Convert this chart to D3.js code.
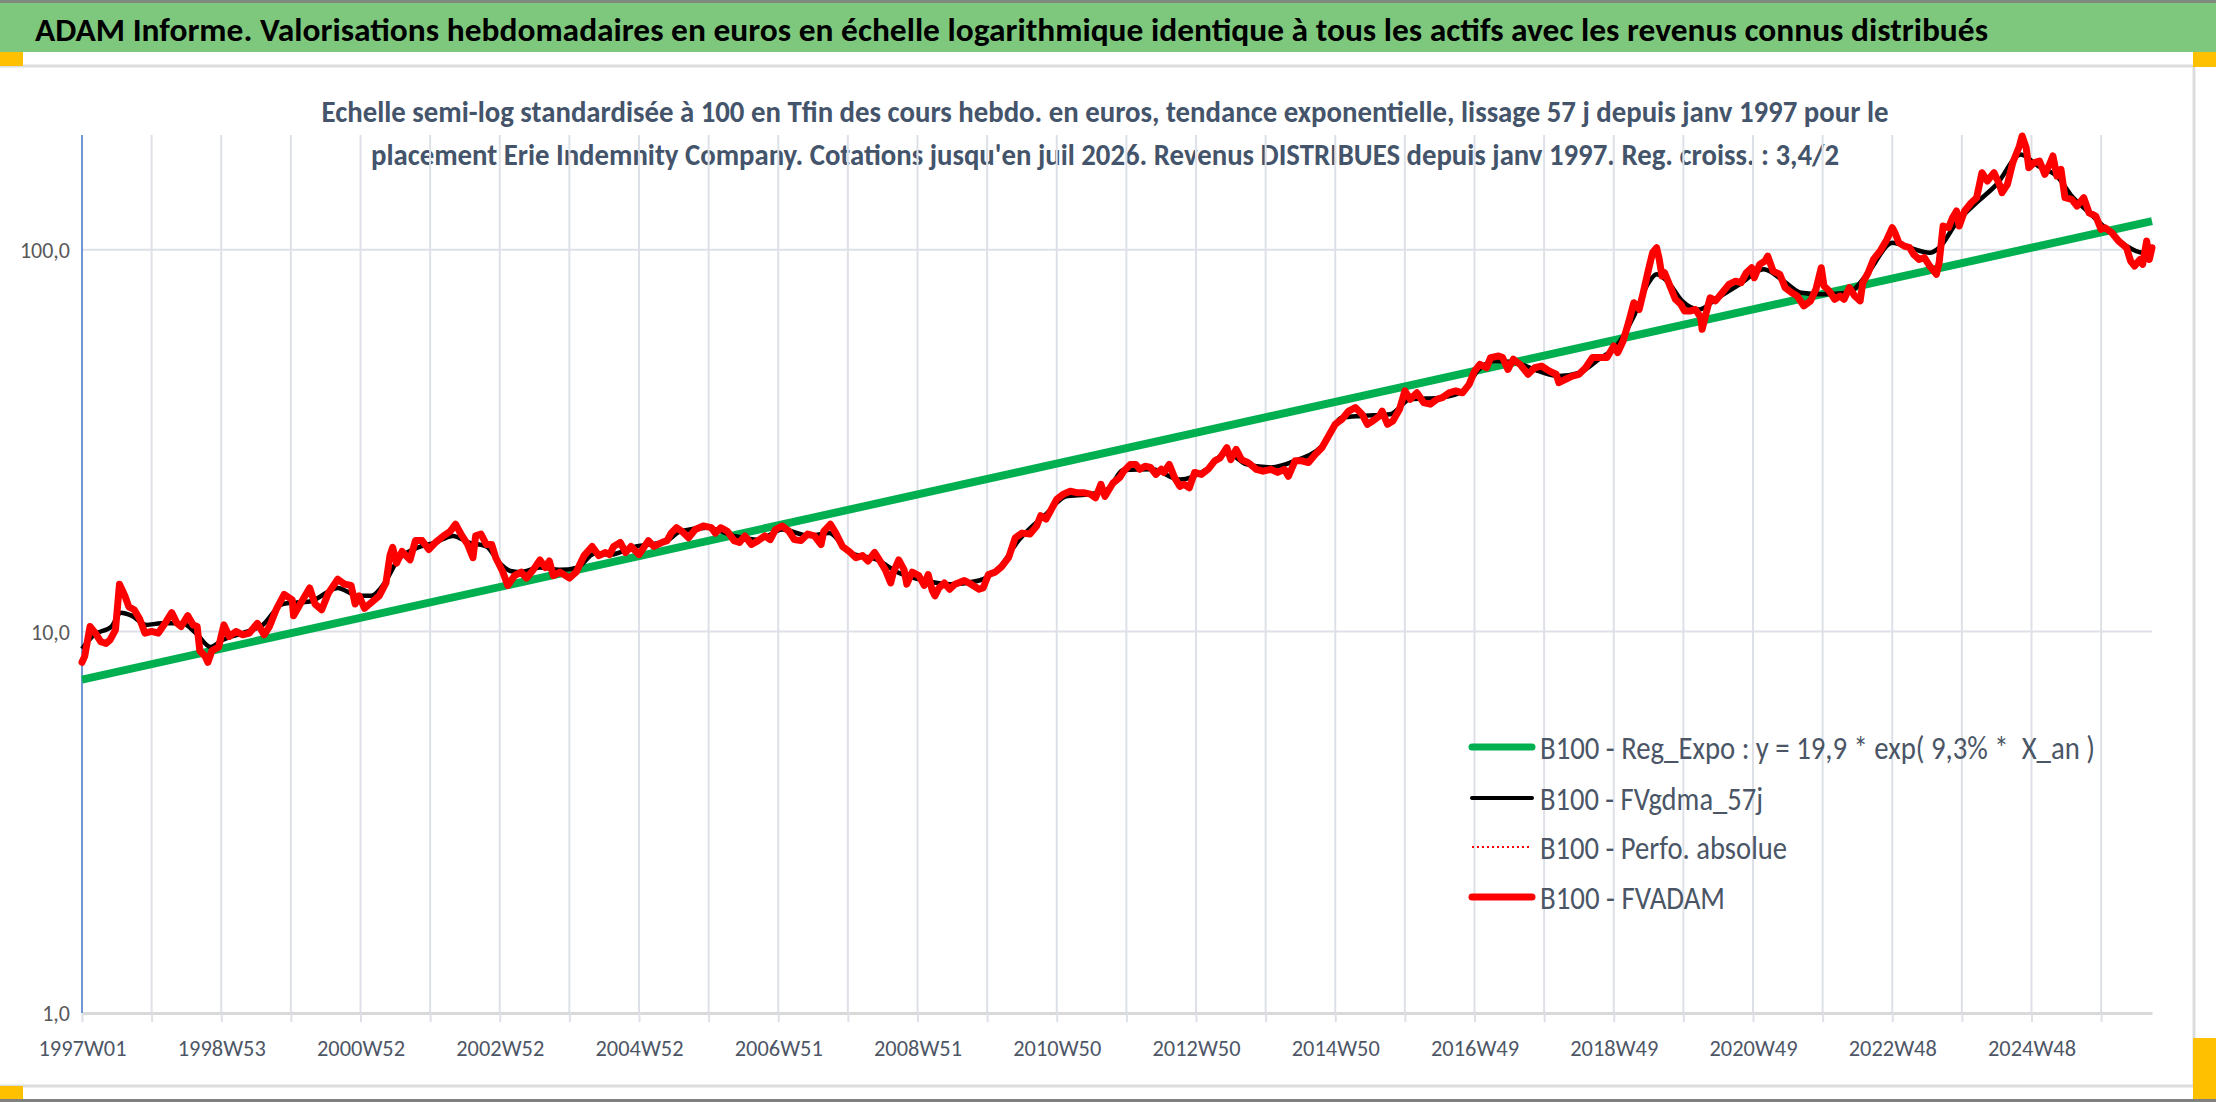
<!DOCTYPE html>
<html><head><meta charset="utf-8">
<script src="https://cdn.jsdelivr.net/npm/d3@7"></script>
<style>
html,body{margin:0;padding:0;background:#fff;overflow:hidden;}
svg{display:block;}
text{font-family:Carlito, Lato, "Open Sans", sans-serif;}
</style></head><body>
<svg id="chart" width="2216" height="1102"></svg>
<script>
// ---------- DATA ----------
const titleText = "ADAM Informe. Valorisations hebdomadaires en euros en échelle logarithmique identique à tous les actifs avec les revenus connus distribués";
const subtitleLines = [
  "Echelle semi-log standardisée à 100 en Tfin des cours hebdo. en euros, tendance exponentielle, lissage 57 j depuis janv 1997 pour le",
  "placement Erie Indemnity Company. Cotations jusqu'en juil 2026. Revenus DISTRIBUES depuis janv 1997. Reg. croiss. : 3,4/2"
];
const tickWeeks = [0,104,208,312,416,520,624,728,832,936,1040,1144,1248,1352,1456];
const tickLabels = ["1997W01","1998W53","2000W52","2002W52","2004W52","2006W51","2008W51","2010W50","2012W50","2014W50","2016W49","2018W49","2020W49","2022W48","2024W48"];
const lastWeek = 1546;
const yTicks = [1, 10, 100];
const yMax = 200;
const legendLabels = [
  "B100 - Reg_Expo : y = 19,9 * exp( 9,3% *  X_an )",
  "B100 - FVgdma_57j",
  "B100 - Perfo. absolue",
  "B100 - FVADAM"
];
// regression (straight line on the log scale): value at first and last week
const regExpo = [[0,7.48],[1546,119]];
// FVADAM weekly valuation [week index, value]
const fvadam = [
[0,8.3],[2,8.6],[6,10.3],[10,9.9],[14,9.4],[18,9.3],[21,9.5],[25,10.1],[28,13.3],[32,12.4],[35,11.6],[39,11.4],[43,10.8],[47,9.9],[52,10.0],[57,9.9],[62,10.5],[67,11.2],[71,10.5],[74,10.3],[79,11.0],[83,10.4],[86,10.3],[88,8.9],[92,8.6],[94,8.3],[97,8.9],[102,9.1],[106,10.4],[110,9.7],[115,10.0],[120,9.8],[125,9.9],[131,10.5],[136,9.8],[140,10.3],[145,11.4],[151,12.5],[157,12.1],[158,11.0],[163,11.8],[170,13.0],[174,11.8],[179,11.4],[184,12.6],[191,13.7],[196,13.3],[201,13.2],[204,11.8],[207,12.4],[211,11.5],[216,11.9],[222,12.4],[227,13.4],[230,15.8],[232,16.6],[235,15.1],[239,16.2],[245,15.4],[249,17.3],[254,17.3],[259,16.4],[264,17.1],[270,17.8],[275,18.3],[279,19.1],[283,18.0],[288,16.9],[292,15.6],[294,17.8],[298,18.0],[302,16.9],[306,16.9],[309,15.6],[314,14.4],[318,13.2],[323,14.0],[328,14.3],[332,13.8],[337,14.5],[342,15.4],[346,14.7],[349,15.3],[352,14.0],[357,14.3],[364,13.8],[369,14.3],[375,15.8],[381,16.7],[386,15.8],[391,16.1],
[394,15.9],[397,16.7],[402,17.1],[406,16.1],[410,16.7],[416,15.9],[423,17.3],[427,16.7],[433,17.1],[437,17.3],[440,18.1],[444,18.7],[448,18.3],[453,17.6],[458,18.5],[464,18.9],[470,18.7],[473,18.1],[477,18.7],[482,18.3],[487,17.3],[491,17.1],[495,17.8],[500,16.9],[505,17.3],[510,17.8],[514,17.4],[518,18.5],[523,18.9],[528,18.3],[532,17.4],[537,17.3],[542,18.0],[547,17.8],[552,16.9],[554,18.3],[559,19.1],[563,18.1],[568,16.7],[573,16.2],[578,15.6],[583,15.8],[587,15.3],[592,16.1],[596,15.3],[600,14.5],[604,13.4],[606,14.3],[610,15.4],[614,14.5],[616,13.3],[620,14.3],[625,14.0],[629,13.2],[632,14.1],[635,12.8],[637,12.4],[640,13.0],[644,13.4],[648,12.9],[652,13.3],[659,13.6],[664,13.3],[670,12.9],[673,13.0],[677,14.1],[682,14.3],[687,14.8],[692,15.6],[697,17.6],[702,18.1],[708,18.0],[713,18.9],[716,20.1],[720,19.7],[724,20.9],[728,22.2],[733,22.9],[738,23.3],[743,23.1],[748,23.1],[753,22.9],[757,22.4],[761,24.3],[764,22.6],[770,24.5],[775,25.3],[778,26.3],[783,27.4],
[787,27.4],[790,26.6],[794,27.1],[798,26.9],[802,25.8],[806,26.6],[808,26.1],[812,27.4],[816,25.3],[820,24.0],[823,24.3],[827,23.8],[831,26.1],[836,25.8],[841,26.6],[846,28.0],[850,28.5],[855,30.3],[858,28.2],[862,30.0],[866,28.2],[871,27.7],[877,26.6],[882,26.3],[888,26.6],[893,26.1],[898,26.6],[901,25.5],[906,28.0],[911,28.0],[916,27.7],[921,29.1],[926,30.3],[931,32.5],[936,34.9],[941,36.0],[946,37.8],[951,38.6],[956,37.1],[960,34.9],[964,35.6],[969,36.7],[971,37.8],[975,34.9],[979,35.6],[984,38.2],[988,42.7],[992,40.6],[997,42.2],[1002,39.8],[1007,39.4],[1012,40.6],[1016,41.0],[1021,42.2],[1026,42.7],[1031,42.2],[1036,44.4],[1040,48.1],[1044,50.1],[1049,49.1],[1052,52.2],[1058,52.7],[1061,52.2],[1065,48.6],[1069,51.7],[1074,50.1],[1080,47.2],[1085,49.1],[1090,49.6],[1096,48.1],[1101,47.2],[1103,44.9],[1108,45.8],[1113,46.7],[1118,47.2],[1123,49.1],[1128,52.2],[1133,52.2],[1139,52.2],[1144,56.0],[1147,53.8],[1151,57.7],[1155,64.4],[1159,72.7],[1163,69.8],[1166,77.2],
[1170,88.9],[1173,98.3],[1176,101.3],[1178,94.4],[1180,85.4],[1182,87.1],[1186,80.4],[1190,74.2],[1194,72.0],[1197,69.1],[1201,69.1],[1205,69.8],[1209,66.4],[1210,61.9],[1213,68.4],[1216,74.9],[1220,73.5],[1225,77.2],[1230,81.2],[1235,82.8],[1239,82.0],[1243,87.1],[1247,89.8],[1249,84.5],[1253,91.6],[1257,93.5],[1259,96.3],[1263,88.0],[1268,86.3],[1272,79.6],[1277,77.2],[1281,75.7],[1286,71.3],[1291,73.5],[1295,78.8],[1299,89.8],[1301,80.4],[1305,78.0],[1309,74.2],[1313,75.7],[1316,74.2],[1320,79.6],[1324,75.7],[1328,73.5],[1330,82.0],[1334,87.1],[1338,94.4],[1343,99.3],[1348,106.5],[1352,114.3],[1354,110.9],[1357,104.4],[1361,102.3],[1365,101.3],[1368,97.3],[1372,94.4],[1376,95.4],[1380,90.7],[1385,86.3],[1387,92.5],[1390,115.5],[1394,114.3],[1397,121.4],[1400,126.4],[1402,115.5],[1406,126.4],[1411,132.9],[1415,137.0],[1419,159.3],[1423,151.5],[1428,159.3],[1432,148.5],[1434,141.2],[1438,148.5],[1442,169.2],[1447,187.2],[1449,198.8],[1452,185.3],[1454,164.2],[1458,169.2],[1462,170.9],[1466,157.7],[1470,169.2],[1472,176.2],[1475,156.1],[1478,162.6],[1481,137.0],[1486,135.6],[1490,130.3],[1495,137.0],[1499,125.1],[1504,122.6],[1508,113.2],[1511,114.3],[1516,110.9],[1521,105.5],[1527,101.3],[1530,93.5],[1533,90.7],[1537,94.4],[1539,91.6],[1542,105.5],[1544,94.4],[1546,101.3]
];
// FVgdma_57j smoothed valuation [week index, value]
const fvgdma = [
[0,9.0],[9,9.8],[22,10.3],[29,11.2],[37,11.0],[48,10.4],[59,10.5],[75,10.5],[85,9.9],[96,9.1],[105,9.5],[120,9.9],[135,10.4],[150,11.8],[171,12.0],[191,13.0],[206,12.4],[216,12.4],[226,13.4],[236,15.4],[251,16.6],[264,17.1],[277,17.8],[289,17.1],[302,16.7],[312,15.1],[320,14.4],[327,14.3],[342,14.7],[357,14.5],[370,14.7],[383,16.0],[395,15.9],[411,16.6],[437,17.3],[447,18.3],[467,18.7],[487,17.8],[505,17.4],[523,18.5],[543,17.8],[558,18.1],[573,16.1],[594,15.4],[609,14.3],[629,13.6],[649,13.3],[670,13.6],[685,14.7],[700,17.4],[720,20.3],[735,22.6],[753,22.9],[766,23.6],[778,26.5],[799,26.6],[820,25.0],[840,26.6],[855,29.4],[870,27.4],[888,26.9],[906,28.0],[926,30.6],[941,36.3],[956,36.7],[977,37.1],[992,40.6],[1015,41.0],[1032,42.7],[1042,48.1],[1055,51.1],[1070,50.6],[1088,48.1],[1103,46.7],[1118,47.6],[1133,51.7],[1146,56.0],[1159,67.0],[1170,82.0],[1176,86.3],[1185,82.0],[1195,73.5],[1208,69.8],[1220,74.2],[1238,81.2],[1256,88.9],[1271,82.8],[1284,77.2],[1299,76.5],[1319,77.2],[1334,87.1],[1352,104.4],[1365,101.3],[1380,98.3],[1387,101.3],[1400,117.8],[1415,132.9],[1430,148.5],[1448,177.9],[1461,165.9],[1476,154.6],[1486,138.4],[1499,125.1],[1511,114.3],[1527,102.3],[1539,98.3],[1546,100.0]
];

// ---------- DRAW ----------
const svg = d3.select("#chart");
const W = 2216, H = 1102;
const plot = {left: 82, right: 2152, top: 135, bottom: 1013};
const green = "#00B050", red = "#FF0000", slate = "#44546A";

function fit(sel, w){ sel.attr("textLength", w).attr("lengthAdjust", "spacingAndGlyphs"); return sel; }

// frame & banner
svg.append("rect").attr("x",0).attr("y",0).attr("width",W).attr("height",H).attr("fill","#fff");
svg.append("rect").attr("x",0).attr("y",0).attr("width",W).attr("height",3).attr("fill","#7f8a7f");
svg.append("rect").attr("x",0).attr("y",3).attr("width",W).attr("height",49).attr("fill","#7ec87e");
svg.append("rect").attr("x",-3).attr("y",66).attr("width",2197).attr("height",1020)
  .attr("fill","#fff").attr("stroke","#dcdcdc").attr("stroke-width",3);
svg.append("rect").attr("x",0).attr("y",1099).attr("width",W).attr("height",3).attr("fill","#808080");
const yellow = "#FFC000";
[[0,52,23,14],[2193,52,23,15],[0,1086,23,13],[2193,1038,23,61]].forEach(r=>{
  svg.append("rect").attr("x",r[0]).attr("y",r[1]).attr("width",r[2]).attr("height",r[3]).attr("fill",yellow);
});

fit(svg.append("text").attr("x",35).attr("y",41).attr("font-size",33).attr("font-weight","bold")
  .attr("fill","#000").text(titleText), 1953);

const subW = [1567, 1468];
subtitleLines.forEach((t,i)=>{
  fit(svg.append("text").attr("x",1105).attr("y",122 + i*43).attr("text-anchor","middle")
    .attr("font-size",30).attr("font-weight","bold").attr("fill",slate).text(t), subW[i]);
});

// scales
const x = d3.scaleLinear().domain([0, lastWeek]).range([plot.left, plot.right]);
const y = d3.scaleLog().domain([1, yMax]).range([plot.bottom, plot.top]);

// gridlines
const gridWeeks = d3.range(52, lastWeek, 52);
svg.append("g").selectAll("line").data(gridWeeks).join("line")
  .attr("x1",d=>x(d)).attr("x2",d=>x(d)).attr("y1",plot.top).attr("y2",plot.bottom)
  .attr("stroke","#dde1e7").attr("stroke-width",2);
svg.append("g").selectAll("line").data(yTicks.filter(v=>v>1)).join("line")
  .attr("x1",plot.left).attr("x2",plot.right).attr("y1",d=>y(d)).attr("y2",d=>y(d))
  .attr("stroke","#dde1e7").attr("stroke-width",2);

// x axis
const labelMap = new Map(tickWeeks.map((w,i)=>[w, tickLabels[i]]));
const xAxis = d3.axisBottom(x).tickValues(d3.range(0, lastWeek, 52)).tickSize(9).tickSizeOuter(0)
  .tickFormat(d => labelMap.get(d) || "");
const gx = svg.append("g").attr("transform",`translate(0,${plot.bottom})`).call(xAxis);
gx.select(".domain").attr("stroke","#d9d9d9").attr("stroke-width",3);
gx.selectAll(".tick line").attr("stroke","#dde1e7").attr("stroke-width",2);
gx.selectAll(".tick text").attr("y",43).attr("dy",0).attr("font-size",22).attr("fill","#4e5666")
  .attr("font-family","Carlito, Lato, sans-serif")
  .each(function(d){ if(labelMap.has(d)) d3.select(this).attr("textLength",88).attr("lengthAdjust","spacingAndGlyphs"); });

// y axis
const yAxis = d3.axisLeft(y).tickValues(yTicks).tickSize(0).tickPadding(12)
  .tickFormat(d => d3.format(".1f")(d).replace(".", ","));
const gy = svg.append("g").attr("transform",`translate(${plot.left},0)`).call(yAxis);
gy.select(".domain").remove();
gy.selectAll(".tick text").attr("font-size",22).attr("fill","#595959")
  .attr("font-family","Carlito, Lato, sans-serif").attr("dy","0.35em");
svg.append("line").attr("x1",plot.left).attr("x2",plot.left).attr("y1",plot.top).attr("y2",plot.bottom)
  .attr("stroke","#4472C4").attr("stroke-width",1.5);

// series
const line = d3.line().x(d=>x(d[0])).y(d=>y(d[1]));
const smooth = d3.line().x(d=>x(d[0])).y(d=>y(d[1])).curve(d3.curveMonotoneX);
svg.append("path").datum(regExpo).attr("d",line).attr("fill","none").attr("stroke",green).attr("stroke-width",8);
svg.append("path").datum(fvgdma).attr("d",smooth).attr("fill","none").attr("stroke","#000")
  .attr("stroke-width",4.5).attr("stroke-linejoin","round");
svg.append("path").datum(fvadam).attr("d",line).attr("fill","none").attr("stroke",red)
  .attr("stroke-width",2).attr("stroke-dasharray","2,3");
svg.append("path").datum(fvadam).attr("d",line).attr("fill","none").attr("stroke",red)
  .attr("stroke-width",7).attr("stroke-linejoin","round").attr("stroke-linecap","round");

// legend
const legY = [747, 798, 847, 897];
const legW = [555, 223, 247, 185];
const legStyles = [
  {c:green, w:7, dash:null},
  {c:"#000", w:4, dash:null},
  {c:red, w:2, dash:"2,3"},
  {c:red, w:7, dash:null}
];
legendLabels.forEach((t,i)=>{
  const s = legStyles[i];
  const l = svg.append("line").attr("x1",1472).attr("x2",1532).attr("y1",legY[i]).attr("y2",legY[i])
    .attr("stroke",s.c).attr("stroke-width",s.w).attr("stroke-linecap", s.dash ? "butt" : "round");
  if(s.dash) l.attr("stroke-dasharray", s.dash);
  fit(svg.append("text").attr("x",1540).attr("y",legY[i]+12).attr("font-size",32)
    .attr("fill","#4a5566").style("white-space","pre").text(t), legW[i]);
});
</script>
</body></html>
